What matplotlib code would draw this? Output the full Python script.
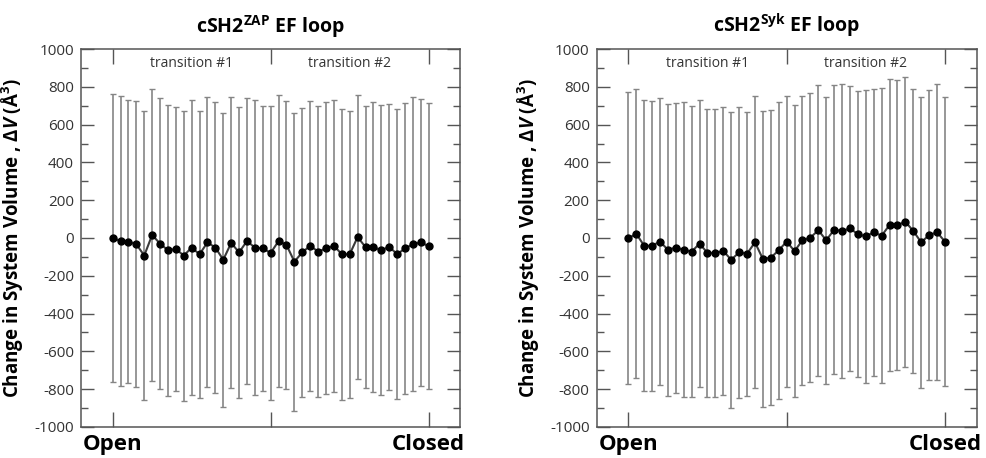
import numpy as np
import matplotlib
matplotlib.use('Agg')
import matplotlib.pyplot as plt
from matplotlib.ticker import MultipleLocator

plt.rcParams['font.family'] = ['Open Sans', 'DejaVu Sans']
plt.rcParams['axes.unicode_minus'] = False
plt.rcParams['mathtext.fontset'] = 'custom'
plt.rcParams['mathtext.rm'] = 'Open Sans:bold'
plt.rcParams['mathtext.it'] = 'Open Sans:bold:italic'
plt.rcParams['mathtext.bf'] = 'Open Sans:bold'

# frames along the open -> closed path (41 points, 2 transitions of 20 steps)
zap_mean = [0, -16, -19, -33, -93, 16, -30, -65, -58, -93,
            -51, -86, -23, -51, -115, -26, -76, -16, -51, -55,
            -79, -16, -37, -125, -76, -41, -72, -55, -41, -86,
            -86, 5, -48, -48, -65, -46, -86, -55, -33, -23, -44]
zap_err = [762, 767, 747, 758, 765, 772, 769, 770, 753, 767,
           779, 760, 767, 769, 778, 770, 771, 758, 779, 755,
           777, 774, 760, 788, 764, 766, 770, 773, 773, 770,
           758, 753, 746, 766, 767, 757, 768, 768, 777, 758, 757]

syk_mean = [-2, 23, -41, -41, -19, -62, -51, -62, -72, -30,
            -79, -79, -69, -115, -76, -83, -23, -111, -104, -65,
            -19, -69, -12, 2, 41, -12, 44, 37, 51, 20,
            9, 30, 12, 69, 69, 86, 37, -23, 16, 30, -19]
syk_err = [773, 765, 769, 766, 761, 773, 767, 780, 769, 758,
           763, 763, 764, 783, 771, 751, 773, 781, 780, 785,
           769, 773, 765, 764, 770, 758, 766, 779, 753, 758,
           774, 758, 781, 774, 765, 767, 753, 771, 769, 783, 763]

titles = ['cSH2$^{\\mathrm{ZAP}}$ EF loop', 'cSH2$^{\\mathrm{Syk}}$ EF loop']
transitions = ['transition #1', 'transition #2']
end_labels = ['Open', 'Closed']
ylab = 'Change in System Volume , \u0394$\\mathit{V}$ (\u00c5$^{\\mathrm{3}}$)'

fig = plt.figure(figsize=(9.87, 4.58), dpi=100)
ax1 = fig.add_axes([0.0821, 0.0677, 0.3843, 0.8253])
ax2 = fig.add_axes([0.6045, 0.0677, 0.3850, 0.8253])

framec = '#555555'
for ax, m, e, t in [(ax1, zap_mean, zap_err, titles[0]), (ax2, syk_mean, syk_err, titles[1])]:
    x = np.arange(len(m))
    ax.errorbar(x, m, yerr=e, fmt='none', ecolor='#858585', elinewidth=1.2,
                capsize=2.4, capthick=1.0, zorder=1)
    ax.plot(x, m, '-', color='#3a3a3a', lw=1.5, zorder=2)
    ax.plot(x, m, 'o', color='black', ms=5, zorder=3)
    ax.set_xlim(-4, 44)
    ax.set_ylim(-1000, 1000)
    ax.yaxis.set_major_locator(MultipleLocator(200))
    ax.yaxis.set_minor_locator(MultipleLocator(100))
    ax.set_xticks([0, 20, 40])
    ax.set_xticklabels([end_labels[0], '', end_labels[1]], fontsize=16, fontweight='bold')
    ax.tick_params(axis='x', direction='in', length=11, width=1, color=framec,
                   top=True, bottom=True, pad=5)
    ax.tick_params(axis='y', which='major', direction='in', length=9.5, width=1,
                   color=framec, left=True, right=True, labelsize=11, labelcolor='#333333', pad=5)
    ax.tick_params(axis='y', which='minor', direction='in', length=5, width=1,
                   color=framec, left=True, right=True)
    for s in ax.spines.values():
        s.set_color(framec)
        s.set_linewidth(1.1)
    ax.text(10, 925, transitions[0], ha='center', va='center', fontsize=10, color='#333333')
    ax.text(30, 925, transitions[1], ha='center', va='center', fontsize=10, color='#333333')
    ax.set_title(t, fontsize=14, fontweight='bold', pad=12)
    ax.set_ylabel(ylab, fontsize=13.5, fontweight='bold')
    ax.yaxis.set_label_coords(-0.145, 0.5)

fig.savefig('out.png', dpi=100)
